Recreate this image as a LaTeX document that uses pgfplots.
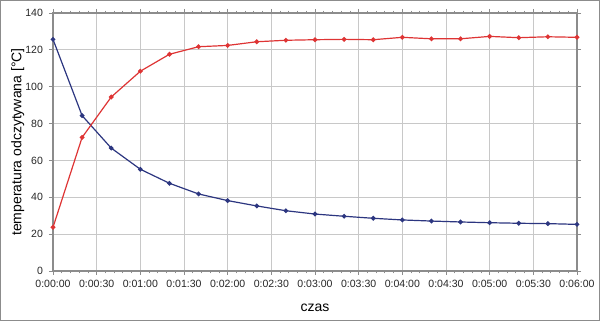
\documentclass[border=0pt]{standalone}
\usepackage{pgfplots}
\pgfplotsset{compat=1.18}
\usepackage{fontspec}
\setmainfont{Liberation Sans}
\definecolor{redline}{RGB}{222,52,52}
\definecolor{blueline}{RGB}{44,54,128}
\definecolor{gridc}{RGB}{200,200,200}
\definecolor{axisc}{RGB}{140,140,140}
\begin{document}
\begin{tikzpicture}
\useasboundingbox (0,0) rectangle (450pt,240.75pt);
\draw[axisc, line width=1.1pt] (0.55pt,0.55pt) rectangle (449.45pt,240.2pt);
\begin{axis}[
  at={(39.75pt,37.5pt)}, anchor=south west,
  scale only axis, width=393pt, height=193.5pt,
  xmin=0, xmax=360, ymin=0, ymax=140,
  xtick={0,30,...,360},
  xticklabels={0:00:00,0:00:30,0:01:00,0:01:30,0:02:00,0:02:30,0:03:00,0:03:30,0:04:00,0:04:30,0:05:00,0:05:30,0:06:00},
  ytick={0,20,...,140},
  minor x tick num=4,
  grid=major,
  major grid style={gridc, line width=0.6pt},
  axis line style={axisc, line width=0.8pt},
  tick style={axisc, line width=0.6pt},
  tick align=outside,
  major tick length=3pt, minor tick length=1.8pt,
  /pgf/number format/assume math mode=true,
  tick label style={font=\fontsize{7.9}{9}\selectfont, text=black!85},
  yticklabel style={xshift=-1pt},
  xticklabel style={yshift=-0.5pt},
  label style={font=\fontsize{10.5}{12}\selectfont},
  xlabel={czas}, ylabel={temperatura odczytywana [°C]},
  xlabel style={yshift=-5pt},
  ylabel style={yshift=-6pt},
  clip=false,
]
\addplot[blueline, line width=0.9pt, mark=*, mark size=1.3pt] coordinates {
(0,125.7) (20,84.3) (40,66.7) (60,55.2) (80,47.6) (100,41.8) (120,38.2)
(140,35.3) (160,32.7) (180,30.9) (200,29.7) (220,28.6) (240,27.7) (260,27.1)
(280,26.6) (300,26.2) (320,25.9) (340,25.7) (360,25.3)};
\addplot[redline, line width=0.9pt, mark=*, mark size=1.3pt] coordinates {
(0,23.7) (20,72.5) (40,94.4) (60,108.4) (80,117.6) (100,121.7) (120,122.4)
(140,124.4) (160,125.2) (180,125.5) (200,125.7) (220,125.5) (240,126.8) (260,126.0)
(280,126.0) (300,127.3) (320,126.6) (340,127.1) (360,126.8)};
\end{axis}
\end{tikzpicture}
\end{document}
